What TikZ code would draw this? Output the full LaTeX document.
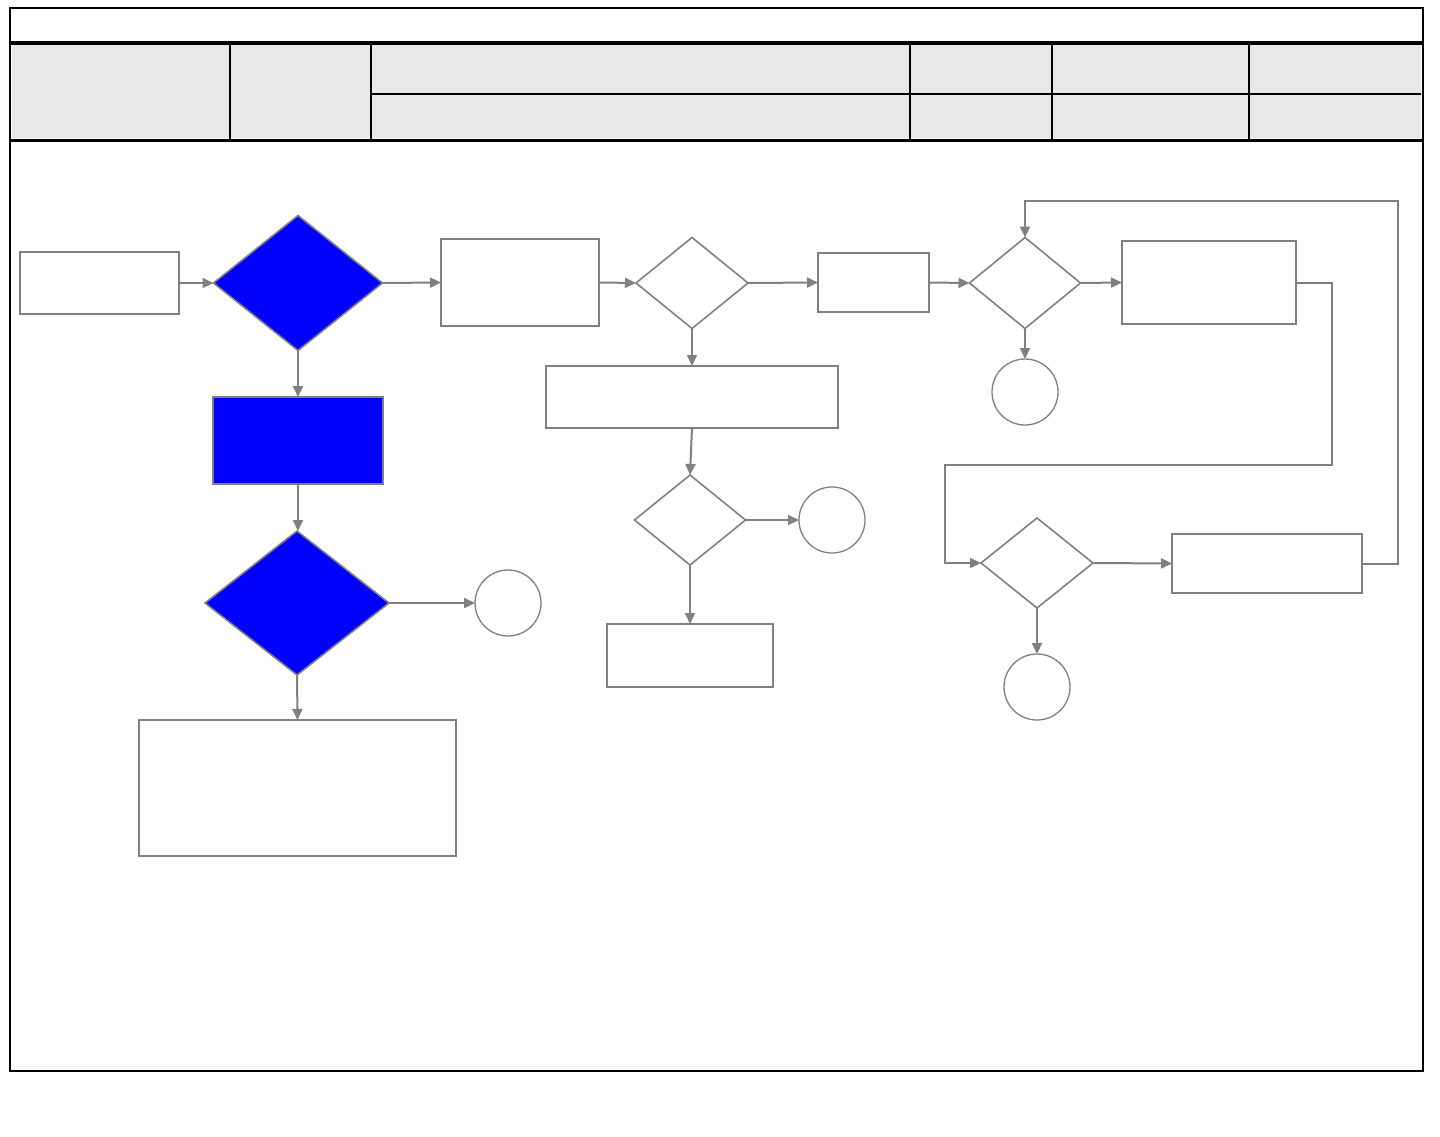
\documentclass[tikz,border=0pt]{standalone}
\usetikzlibrary{shapes.geometric,arrows.meta}
\definecolor{lgray}{HTML}{808080}
\definecolor{hdrfill}{HTML}{E8E8E8}
\definecolor{fblue}{HTML}{0000FF}
\tikzset{
  shp/.style={draw=lgray, line width=1.6pt, inner sep=0pt, outer sep=0pt},
  box/.style={shp, rectangle, fill=white},
  bluebox/.style={shp, rectangle, fill=fblue},
  dia/.style={shp, diamond, fill=white},
  bluedia/.style={shp, diamond, fill=fblue},
  term/.style={shp, circle, fill=white, minimum size=66pt, line width=1.3pt},
  conn/.style={draw=lgray, line width=2pt, -{Triangle[length=11pt,width=10pt]}},
  frameline/.style={draw=black, line width=1.6pt},
  thickline/.style={draw=black, line width=3.5pt},
  thinline/.style={draw=black, line width=1.4pt}
}
\begin{document}
\begin{tikzpicture}[x=1pt,y=-1pt]
\useasboundingbox[fill=white] (0,0) rectangle (1440,1137);
% header
\fill[hdrfill] (12,45) rectangle (1421,138);
\draw[thinline] (230,45) -- (230,139);
\draw[thinline] (371,45) -- (371,139);
\draw[thinline] (910,45) -- (910,139);
\draw[thinline] (1052,45) -- (1052,139);
\draw[thinline] (1249,45) -- (1249,139);
\draw[thinline, line width=1.1pt] (371,94) -- (1421,94);
\draw[thickline] (11,43) -- (1423,43);
\draw[thickline] (11,140.5) -- (1423,140.5);
\draw[frameline] (10,8) rectangle (1423,1071);

% nodes
\node[box, minimum width=159pt, minimum height=62pt] (start) at (99.5,283) {};
\node[bluedia, minimum width=169pt, minimum height=135pt] (d1) at (298,283) {};
\node[box, minimum width=158pt, minimum height=87pt, line width=2pt] (r2) at (520,282.5) {};
\node[dia, minimum width=112pt, minimum height=91pt] (d2) at (692,283) {};
\node[box, minimum width=111pt, minimum height=59pt] (r3) at (873.5,282.5) {};
\node[dia, minimum width=111pt, minimum height=91pt] (d3) at (1025,283) {};
\node[box, minimum width=174pt, minimum height=83pt] (r4) at (1209,282.5) {};
\node[term] (c1) at (1025,392) {};
\node[bluebox, minimum width=170pt, minimum height=87pt] (b1) at (298,440.5) {};
\node[box, minimum width=292pt, minimum height=62pt] (r5) at (692,397) {};
\node[dia, minimum width=111pt, minimum height=90pt] (d4) at (690,520) {};
\node[term] (c2) at (832,520) {};
\node[box, minimum width=166pt, minimum height=63pt, line width=2pt] (r6) at (690,655.5) {};
\node[bluedia, minimum width=184pt, minimum height=144pt] (d5) at (297,603) {};
\node[term] (c3) at (508,603) {};
\node[box, minimum width=317pt, minimum height=136pt, line width=2pt] (r7) at (297.5,788) {};
\node[dia, minimum width=112pt, minimum height=90pt] (d6) at (1037,563) {};
\node[box, minimum width=190pt, minimum height=59pt] (r8) at (1267,563.5) {};
\node[term] (c4) at (1037,687) {};

\coordinate (k1) at (1332,465);
\coordinate (k2) at (945,465);
\coordinate (k3) at (1398,201);

% connectors
\draw[conn] (start.east) -- (d1.west);
\draw[conn] (d1.east) -- (r2.west);
\draw[conn] (d1.south) -- (b1.north);
\draw[conn] (b1.south) -- (d5.north -| b1.south);
\draw[conn] (d5.east) -- (c3.west);
\draw[conn] (d5.south) -- (r7.north);
\draw[conn] (r2.east) -- (d2.west);
\draw[conn] (d2.east) -- (r3.west);
\draw[conn] (d2.south) -- (r5.north);
\draw[conn] (r5.south) -- (d4.north);
\draw[conn] (d4.east) -- (c2.west);
\draw[conn] (d4.south) -- (r6.north);
\draw[conn] (r3.east) -- (d3.west);
\draw[conn] (d3.east) -- (r4.west);
\draw[conn] (d3.south) -- (c1.north);
\draw[conn] (r4.east) -| (k1) -- (k2) |- (d6.west);
\draw[conn] (d6.east) -- (r8.west);
\draw[conn] (d6.south) -- (c4.north);
\draw[conn] (r8.east) -| (k3) -| (d3.north);
\end{tikzpicture}
\end{document}
